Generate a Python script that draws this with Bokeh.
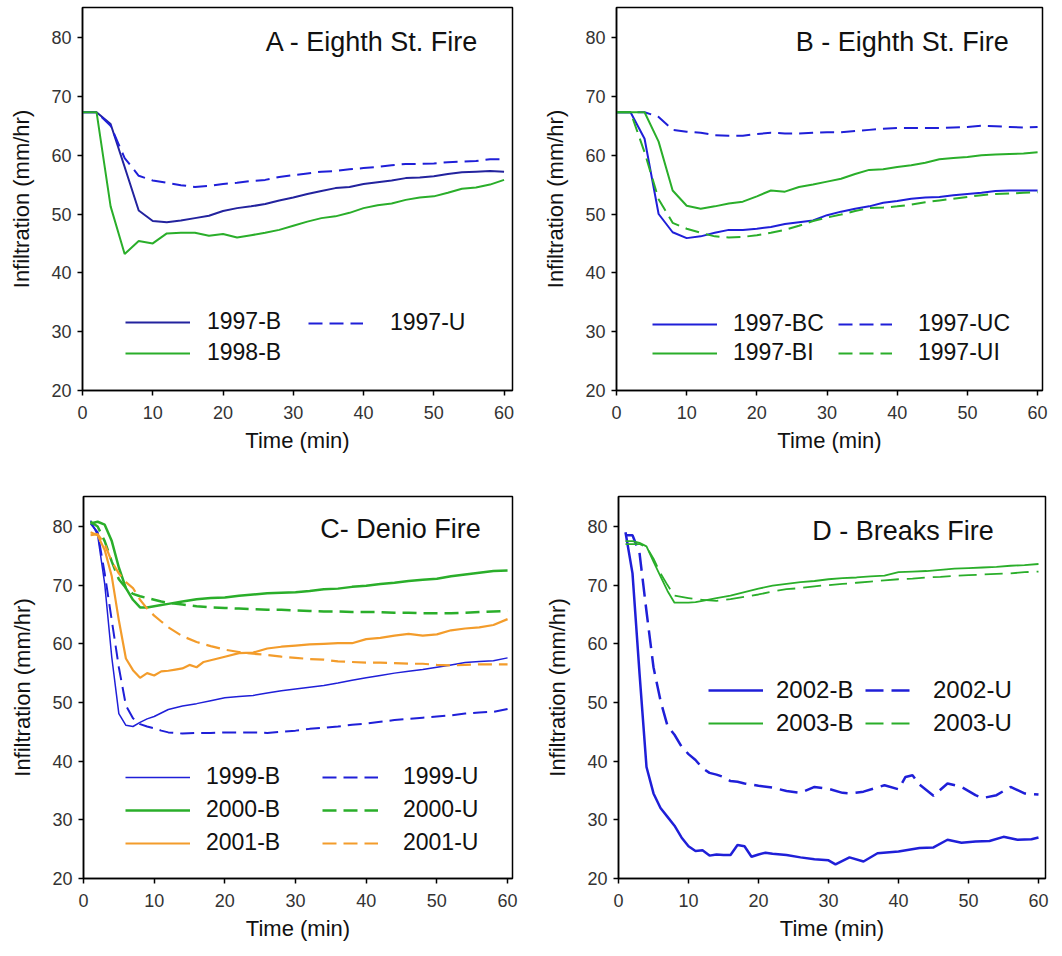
from bokeh.plotting import figure
from bokeh.models import Legend, LegendItem, Label, Range1d, FixedTicker
from bokeh.layouts import column, row
from bokeh.embed import file_html
from bokeh.resources import INLINE

FONT = "Liberation Sans"
BLUE = "#1f1fd8"
NAVY = "#23239e"
GREEN = "#2aae2a"
ORANGE = "#f39c2b"

# ---------------- Panel A: Eighth St. Fire ----------------
a_x = [0, 2, 4, 6, 8, 10, 12, 14, 16, 18, 20, 22, 24, 26, 28, 30, 32, 34, 36, 38, 40,
       42, 44, 46, 48, 50, 52, 54, 56, 58, 60]
a_1997_B = [67.3, 67.3, 65.3, 58.0, 50.6, 48.8, 48.6, 48.9, 49.3, 49.7, 50.5, 51.0, 51.3,
            51.7, 52.3, 52.8, 53.4, 53.9, 54.4, 54.6, 55.1, 55.4, 55.7, 56.1, 56.2, 56.4,
            56.8, 57.1, 57.2, 57.3, 57.2]
a_1997_U = [67.3, 67.3, 65.0, 59.5, 56.5, 55.7, 55.3, 54.9, 54.6, 54.8, 55.1, 55.3, 55.6,
            55.8, 56.3, 56.6, 56.9, 57.2, 57.3, 57.6, 57.8, 58.0, 58.3, 58.5, 58.5, 58.6,
            58.8, 58.9, 59.0, 59.3, 59.3]
a_1998_B = [67.3, 67.3, 51.3, 43.2, 45.4, 45.0, 46.7, 46.8, 46.8, 46.3, 46.6, 46.0, 46.4,
            46.8, 47.3, 48.0, 48.7, 49.3, 49.6, 50.2, 51.0, 51.5, 51.8, 52.4, 52.8, 53.0,
            53.6, 54.3, 54.5, 55.0, 55.8]

# ---------------- Panel B: Eighth St. Fire ----------------
b_x = a_x
b_1997_BC = [67.3, 67.3, 62.8, 50.0, 46.9, 45.9, 46.2, 46.8, 47.3, 47.3, 47.5, 47.8, 48.3,
             48.6, 48.9, 49.8, 50.4, 50.9, 51.3, 51.9, 52.2, 52.6, 52.8, 52.9, 53.2, 53.4,
             53.6, 53.9, 54.0, 54.0, 54.0]
b_1997_UC = [67.3, 67.3, 67.3, 66.5, 64.3, 64.0, 63.8, 63.4, 63.3, 63.3, 63.6, 63.8, 63.7,
             63.7, 63.8, 63.9, 63.9, 64.1, 64.3, 64.5, 64.6, 64.6, 64.6, 64.6, 64.7, 64.8,
             65.0, 64.9, 64.8, 64.7, 64.8]
b_1997_BI = [67.3, 67.3, 67.3, 62.3, 54.0, 51.4, 50.9, 51.3, 51.8, 52.1, 53.0, 54.0, 53.8,
             54.6, 55.0, 55.5, 56.0, 56.8, 57.5, 57.6, 58.0, 58.3, 58.7, 59.3, 59.5, 59.7,
             60.0, 60.1, 60.2, 60.3, 60.5]
b_1997_UI = [67.3, 67.3, 60.5, 52.5, 48.5, 47.5, 46.8, 46.2, 46.0, 46.1, 46.4, 46.8, 47.3,
             48.0, 48.8, 49.4, 49.9, 50.5, 51.0, 51.1, 51.3, 51.6, 52.0, 52.3, 52.6, 52.9,
             53.2, 53.4, 53.5, 53.6, 53.7]

# ---------------- Panel C: Denio Fire ----------------
c_x = [1, 2, 3, 4, 5, 6, 7, 8, 9, 10, 11, 12, 14, 16, 18, 20, 22, 24, 26, 28, 30, 32, 34,
       36, 38, 40, 42, 44, 46, 48, 50, 52, 54, 56, 58, 60]
c_1999_B = [81.0, 78.5, 70.2, 57.7, 48.1, 46.1, 45.9, 46.6, 47.2, 47.6, 48.2, 48.8, 49.4,
            49.8, 50.3, 50.8, 51.0, 51.2, 51.6, 52.0, 52.3, 52.6, 52.9, 53.3, 53.8, 54.2,
            54.6, 55.0, 55.3, 55.6, 56.0, 56.4, 56.8, 57.0, 57.1, 57.6]
c_1999_U = [80.5, 79.0, 72.0, 64.0, 56.0, 49.5, 47.3, 46.3, 45.9, 45.6, 45.2, 44.9, 44.7,
            44.8, 44.8, 44.9, 44.9, 44.9, 44.8, 45.0, 45.2, 45.5, 45.7, 45.9, 46.2, 46.4,
            46.7, 47.0, 47.2, 47.4, 47.6, 47.8, 48.1, 48.3, 48.4, 48.9]
c_2000_B = [80.5, 80.8, 80.3, 77.5, 73.0, 69.5, 67.5, 66.2, 66.2, 66.4, 66.6, 66.8, 67.2,
            67.6, 67.8, 67.9, 68.2, 68.4, 68.6, 68.7, 68.8, 69.0, 69.3, 69.4, 69.7, 69.9,
            70.2, 70.4, 70.7, 70.9, 71.1, 71.5, 71.8, 72.1, 72.4, 72.5]
c_2000_U = [80.8, 80.0, 77.5, 74.0, 71.0, 69.5, 68.5, 68.1, 67.8, 67.5, 67.2, 67.0, 66.7,
            66.4, 66.2, 66.1, 66.0, 65.9, 65.8, 65.8, 65.7, 65.6, 65.5, 65.5, 65.4, 65.4,
            65.4, 65.3, 65.3, 65.2, 65.2, 65.2, 65.3, 65.4, 65.5, 65.6]
c_2001_B_x = [1, 2, 3, 4, 5, 6, 7, 8, 9, 10, 11, 12, 13, 14, 15, 16, 17, 18, 20, 22, 24, 26,
              28, 30, 32, 34, 36, 38, 40, 42, 44, 46, 48, 50, 52, 54, 56, 58, 60]
c_2001_B = [79.0, 78.5, 76.0, 71.5, 64.0, 57.5, 55.5, 54.2, 55.0, 54.6, 55.3, 55.4, 55.6,
            55.8, 56.4, 56.0, 56.9, 57.2, 57.8, 58.4, 58.5, 59.2, 59.5, 59.7, 59.9, 60.0,
            60.1, 60.1, 60.8, 61.0, 61.4, 61.7, 61.4, 61.6, 62.3, 62.6, 62.8, 63.2, 64.2]
c_2001_U = [78.5, 78.7, 77.0, 74.0, 72.0, 70.5, 69.5, 67.5, 66.0, 64.8, 63.8, 62.8, 61.3,
            60.3, 59.6, 59.0, 58.6, 58.3, 58.1, 57.8, 57.6, 57.4, 57.3, 57.0, 56.9, 56.8,
            56.8, 56.7, 56.6, 56.6, 56.4, 56.3, 56.4, 56.5, 56.5, 56.5]

# ---------------- Panel D: Breaks Fire ----------------
d_b_x = [1, 2, 3, 4, 5, 6, 7, 8, 9, 10, 11, 12, 13, 14, 15, 16, 17, 18, 19, 20, 21, 22, 24,
         26, 28, 30, 31, 32, 33, 35, 37, 40, 43, 45, 47, 49, 51, 53, 55, 57, 59, 60]
d_2002_B = [79.0, 72.0, 55.0, 39.0, 34.5, 32.0, 30.5, 29.0, 27.0, 25.5, 24.7, 24.8, 23.9,
            24.1, 24.0, 24.0, 25.7, 25.5, 23.7, 24.1, 24.4, 24.2, 24.0, 23.6, 23.3, 23.1,
            22.4, 23.0, 23.6, 22.9, 24.3, 24.6, 25.2, 25.3, 26.6, 26.1, 26.3, 26.4, 27.1,
            26.6, 26.7, 27.0]
d_u_x = [1, 2, 3, 4, 5, 6, 7, 8, 9, 10, 11, 12, 13, 14, 15, 16, 17, 18, 20, 22, 24, 26, 28,
         30, 32, 33, 35, 38, 40, 41, 42, 43, 45, 47, 49, 51, 52, 54, 56, 58, 60]
d_2002_U = [78.5, 78.5, 75.5, 65.5, 56.0, 50.3, 46.0, 44.5, 42.5, 41.2, 40.2, 38.8, 38.0,
            37.7, 37.3, 36.6, 36.5, 36.2, 35.8, 35.5, 34.9, 34.6, 35.6, 35.3, 34.6, 34.5,
            34.8, 35.9, 35.2, 37.3, 37.6, 36.0, 34.1, 36.2, 35.6, 34.2, 33.7, 34.2, 35.6,
            34.5, 34.3]
d_g_x = [1, 2, 3, 4, 5, 6, 7, 8, 9, 10, 11, 12, 14, 16, 18, 20, 22, 24, 26, 28, 30, 32, 34,
         36, 38, 40, 42, 44, 46, 48, 50, 52, 54, 56, 58, 60]
d_2003_B = [77.5, 77.5, 77.2, 76.6, 74.0, 71.5, 69.0, 67.0, 67.0, 67.0, 67.1, 67.3, 67.8,
            68.2, 68.8, 69.4, 69.9, 70.2, 70.5, 70.7, 71.0, 71.2, 71.3, 71.5, 71.6, 72.2,
            72.3, 72.4, 72.6, 72.8, 72.9, 73.0, 73.1, 73.3, 73.4, 73.6]
d_2003_U = [77.0, 77.0, 77.0, 76.5, 74.5, 72.0, 70.0, 68.2, 68.0, 67.8, 67.6, 67.5, 67.3,
            67.6, 68.0, 68.4, 68.9, 69.3, 69.5, 69.8, 70.0, 70.2, 70.4, 70.6, 70.8, 71.0,
            71.1, 71.3, 71.4, 71.6, 71.7, 71.8, 71.9, 72.0, 72.2, 72.3]

x_ticks = [0, 10, 20, 30, 40, 50, 60]
y_ticks = [20, 30, 40, 50, 60, 70, 80]


def make_fig(w, h, x_end, left, right, top, bottom):
    p = figure(width=w, height=h, output_backend="svg", toolbar_location=None,
               x_range=Range1d(0, x_end), y_range=Range1d(20, 85.1),
               min_border_left=left, min_border_right=right,
               min_border_top=top, min_border_bottom=bottom)
    p.xgrid.visible = False
    p.ygrid.visible = False
    p.outline_line_color = "black"
    p.outline_line_width = 1.5
    p.xaxis.axis_label = "Time (min)"
    p.yaxis.axis_label = "Infiltration (mm/hr)"
    p.xaxis.ticker = FixedTicker(ticks=x_ticks)
    p.yaxis.ticker = FixedTicker(ticks=y_ticks)
    for ax in (p.xaxis, p.yaxis):
        ax.axis_line_color = "black"
        ax.axis_line_width = 1.5
        ax.major_tick_line_color = "black"
        ax.major_tick_line_width = 1.5
        ax.major_tick_in = 0
        ax.major_tick_out = 5
        ax.minor_tick_line_color = None
        ax.major_label_text_font = FONT
        ax.major_label_text_font_size = "18px"
        ax.major_label_text_color = "#333333"
        ax.axis_label_text_font = FONT
        ax.axis_label_text_font_size = "22px"
        ax.axis_label_text_font_style = "normal"
        ax.axis_label_text_color = "#111111"
    p.xaxis.major_label_standoff = 10
    p.xaxis.axis_label_standoff = 6
    p.yaxis.major_label_standoff = 6
    p.yaxis.axis_label_standoff = 14
    return p


def add_title(p, text, x, y, size="27px"):
    p.add_layout(Label(x=x, y=y, text=text, text_align="right", text_baseline="alphabetic",
                       text_font=FONT, text_font_size=size, text_color="#111111"))


def add_legend(p, items, loc, glyph_w, standoff, spacing, size="23px", gh=26):
    lg = Legend(items=[LegendItem(label=l, renderers=[r]) for l, r in items],
                location=loc, orientation="vertical", glyph_width=glyph_w, glyph_height=gh,
                label_height=gh, label_standoff=standoff, spacing=spacing, padding=0,
                margin=0, border_line_alpha=0, background_fill_alpha=0,
                label_text_font=FONT, label_text_font_size=size, label_text_color="#111111")
    p.add_layout(lg)


# Panel A
pa = make_fig(531, 478, 61.2, 82, 19, 7, 88)
ra1 = pa.line(a_x, a_1997_B, line_color=NAVY, line_width=2)
ra2 = pa.line(a_x, a_1997_U, line_color=BLUE, line_width=2, line_dash="14 7")
ra3 = pa.line(a_x, a_1998_B, line_color=GREEN, line_width=2)
add_title(pa, "A - Eighth St. Fire", 56.4, 79.2)
add_legend(pa, [("1997-B", ra1), ("1998-B", ra3)], (43, 24), 65, 17, 4)
add_legend(pa, [("1997-U", ra2)], (226, 54), 55, 27, 4)

# Panel B
pb = make_fig(525, 478, 60.7, 85, 14, 7, 88)
rb1 = pb.line(b_x, b_1997_BC, line_color=BLUE, line_width=2)
rb2 = pb.line(b_x, b_1997_UC, line_color=BLUE, line_width=2, line_dash="14 7")
rb3 = pb.line(b_x, b_1997_BI, line_color=GREEN, line_width=2)
rb4 = pb.line(b_x, b_1997_UI, line_color=GREEN, line_width=2, line_dash="14 7")
add_title(pb, "B - Eighth St. Fire", 55.9, 79.2)
add_legend(pb, [("1997-BC", rb1), ("1997-BI", rb3)], (36, 24), 65, 16, 2)
add_legend(pb, [("1997-UC", rb2), ("1997-UI", rb4)], (222, 24), 54, 26, 2)

# Panel C
pc = make_fig(531, 470, 60.7, 83, 19, 18, 70)
rc1 = pc.line(c_x, c_1999_B, line_color=BLUE, line_width=1.5)
rc2 = pc.line(c_x, c_1999_U, line_color=BLUE, line_width=2, line_dash="14 7")
rc3 = pc.line(c_x, c_2000_B, line_color=GREEN, line_width=2.5)
rc4 = pc.line(c_x, c_2000_U, line_color=GREEN, line_width=2.5, line_dash="14 7")
rc5 = pc.line(c_2001_B_x, c_2001_B, line_color=ORANGE, line_width=2.2)
rc6 = pc.line(c_x, c_2001_U, line_color=ORANGE, line_width=2.2, line_dash="14 7")
add_title(pc, "C- Denio Fire", 56.2, 79.5)
add_legend(pc, [("1999-B", rc1), ("2000-B", rc3), ("2001-B", rc5)], (42, 22), 65, 16, 6)
add_legend(pc, [("1999-U", rc2), ("2000-U", rc4), ("2001-U", rc6)], (239, 22), 56, 25, 6)

# Panel D
pd_ = make_fig(525, 470, 61.0, 87, 11, 17, 68)
rd1 = pd_.line(d_b_x, d_2002_B, line_color=BLUE, line_width=2.5)
rd2 = pd_.line(d_u_x, d_2002_U, line_color=BLUE, line_width=2.5, line_dash="18 8")
rd3 = pd_.line(d_g_x, d_2003_B, line_color=GREEN, line_width=1.8)
rd4 = pd_.line(d_g_x, d_2003_U, line_color=GREEN, line_width=1.8, line_dash="18 8")
add_title(pd_, "D - Breaks Fire", 53.6, 79.2)
add_legend(pd_, [("2002-B", rd1), ("2003-B", rd3)], (90, 141), 55, 13, 5, "24px", 28)
add_legend(pd_, [("2002-U", rd2), ("2003-U", rd4)], (247, 141), 48, 20, 5, "24px", 28)

layout = column(row(pa, pb), row(pc, pd_))
open("out.html", "w").write(file_html(layout, INLINE))
